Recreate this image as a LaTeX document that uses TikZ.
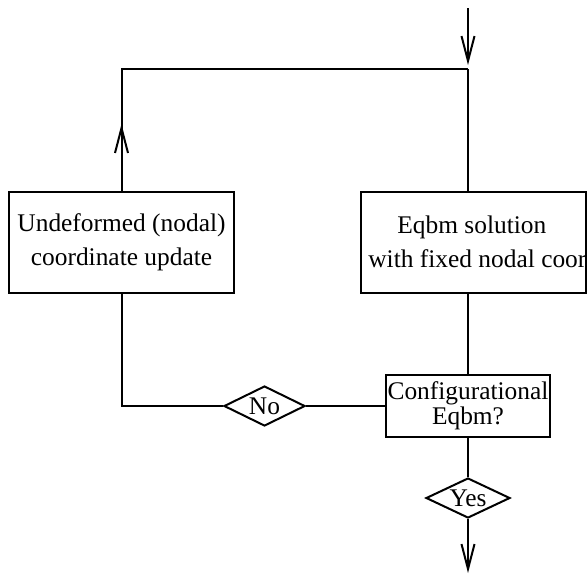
\documentclass[tikz,border=0pt]{standalone}
\usepackage{fontspec}
\setmainfont{Liberation Serif}
\usetikzlibrary{shapes.geometric,arrows.meta,decorations.markings}

\tikzset{
  flow/.style={line width=1pt},
  tip/.style={-{Straight Barb[length=12.5pt,width=6.5pt]}},
  midarrow/.style={decoration={markings,
      mark=at position 33.5pt with {\arrow{Straight Barb[length=12.5pt,width=6.5pt]}}},
    postaction={decorate}},
  box/.style={draw,line width=1pt,rectangle,inner sep=0pt,align=center,
    font=\fontsize{12.7}{17}\selectfont},
  boxtext/.style={inner sep=0pt,anchor=base west,font=\fontsize{12.7}{17}\selectfont},
  choice/.style={draw,line width=1pt,diamond,aspect=2,inner sep=0pt,
    font=\fontsize{12.7}{15}\selectfont},
}

\begin{document}
\begin{tikzpicture}[x=0.5pt,y=-0.5pt]
        \useasboundingbox (0,0) rectangle (587,575);
        % the two process boxes
        \node[box,minimum width=112.5pt,minimum height=50.5pt] (update) at (121.5,242.5) {Undeformed (nodal)\\coordinate update};
        \node[box,minimum width=112.5pt,minimum height=50.5pt] (solve) at (473.5,242.5) {};
        \node[boxtext] (solvea) at (397,233) {Eqbm solution};
        \node[boxtext] (solveb) at (368,267) {with fixed nodal coor};
        % test and its two answers
        \node[box,minimum width=82pt,minimum height=31pt,font=\fontsize{12.7}{12.5}\selectfont] (check) at (468,406) {Configurational\\Eqbm?};
        \node[choice,minimum width=40.5pt,minimum height=20pt] (no) at (264.5,406) {No};
        \node[choice,minimum width=42pt,minimum height=20pt] (yes) at (468,498) {Yes};
        \coordinate (in) at (468,8);
        \coordinate (join) at (468,69);
        \coordinate (out) at (468,573);
        % connectors
        \draw[flow,tip,shorten >=2pt] (in) -- (join);
        \draw[flow] (join) -- (join |- solve.north);
        \draw[flow,midarrow] (update.north) -- (update.north |- join) -- (join);
        \draw[flow] (update.south) |- (no.west);
        \draw[flow] (no.east) -- (check.west);
        \draw[flow] (check.north |- solve.south) -- (check.north);
        \draw[flow] (check.south) -- (yes.north);
        \draw[flow,tip] (yes.south) -- (out);
\end{tikzpicture}
\end{document}
